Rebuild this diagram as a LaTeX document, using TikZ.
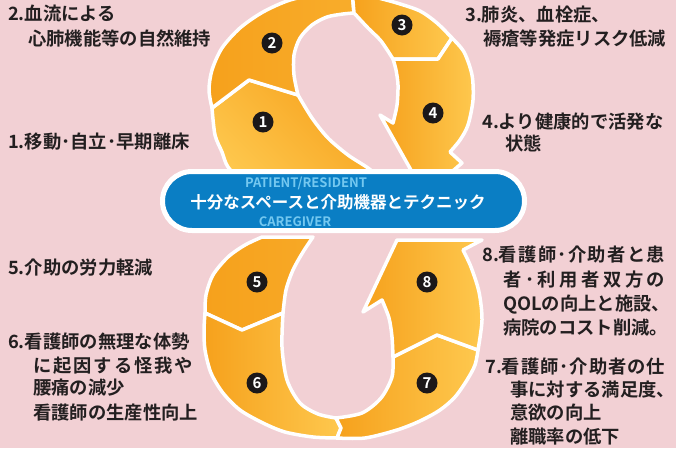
\documentclass[tikz,border=0pt]{standalone}
\usepackage{fontspec}
\setmainfont{Noto Sans CJK JP}[BoldFont={Noto Sans CJK JP Bold}]
\usetikzlibrary{shapes.misc}
\definecolor{bgpink}{HTML}{F2D0D4}
\definecolor{orD}{HTML}{F6A11C}
\definecolor{orL}{HTML}{FEC84E}
\definecolor{pillblue}{HTML}{0A7EC4}
\definecolor{lightblue}{HTML}{74C8F0}
\definecolor{txt}{HTML}{231F20}
\definecolor{numbg}{HTML}{1C1819}
\newcommand{\jfy}[2]{\makebox[#1][s]{#2}}
\begin{document}
\begin{tikzpicture}[x=1pt,y=-1pt,
  seg/.style={draw=white, line width=3.5pt, line join=round},
  grad/.style={left color=orD, right color=orL},
  num/.style={circle, fill=numbg, text=white, minimum size=21pt, inner sep=0pt, font=\bfseries\fontsize{15}{15}\selectfont},
  lab/.style={anchor=west, inner sep=0pt, text=txt, font=\bfseries\fontsize{18.3}{18.3}\selectfont},
  pillsmall/.style={inner sep=0pt, text=lightblue, font=\bfseries\fontsize{13}{13}\selectfont},
]
\useasboundingbox (0,0) rectangle (676,448);
\fill[bgpink] (0,0) rectangle (676,448);
\clip (0,0) rectangle (676,448);

% ---------- upper loop ----------
% segment 1
\path[seg, left color=orL, right color=orD, shading angle=135]
  (212,108) -- (249,80) -- (298,95)
  -- plot[smooth] coordinates {(298,95) (312,118) (328,138) (348,155) (368,168) (385,182)}
  -- (385,195) -- (250,195)
  -- plot[smooth] coordinates {(245,185) (228,167) (222,152) (215,135) (212,108)} -- cycle;
% segment 2
\path[seg, left color=orD, right color=orD!70!orL]
  (212,108) -- (249,80) -- (298,95)
  -- plot[smooth] coordinates {(298,95) (294,75) (294,55) (300,38) (312,25) (327,17) (343,14) (354,13)}
  -- (352,-10)
  -- plot[smooth] coordinates {(352,-10) (320,-6) (290,0) (263,12) (240,28) (222,48) (212,70) (209,90) (212,108)} -- cycle;
% segment 3
\path[seg, grad]
  (354,13) -- (352,-10)
  -- plot[smooth] coordinates {(352,-10) (375,-3) (397,3) (420,11) (437,23) (452,38)}
  -- (438,59) -- (393,59)
  -- plot[smooth] coordinates {(393,59) (381,41) (368,28) (354,13)} -- cycle;
% segment 4
\path[seg, grad]
  (393,59) -- (438,59) -- (452,38)
  -- plot[smooth] coordinates {(452,38) (464,52) (472,75) (473,100) (468,125) (460,140) (450,152)}
  -- (462,163) -- (425,195) -- (407,163) -- (380,115) -- (393,123)
  -- plot[smooth] coordinates {(393,123) (397,105) (398,85) (396,70) (393,59)} -- cycle;

% ---------- lower loop ----------
% segment 5
\path[seg, left color=orD, right color=orD!80!orL]
  (262,237) -- (313,237)
  -- plot[smooth] coordinates {(313,237) (303,252) (293,270) (286,290) (283,313)}
  -- (242,330) -- (205,313)
  -- plot[smooth] coordinates {(205,313) (206,295) (213,275) (228,257) (245,245) (262,237)} -- cycle;
% segment 6
\path[seg, grad]
  (205,313) -- (242,330) -- (283,313)
  -- plot[smooth] coordinates {(283,313) (282,347) (287,380) (300,403) (318,414) (336,418)}
  -- (341,428) -- (337,438)
  -- plot[smooth] coordinates {(337,438) (313,437) (285,432) (263,423) (240,410) (223,393) (211,373) (205,350) (204,330) (205,313)} -- cycle;
% segment 7
\path[seg, grad]
  (336,418) -- (341,428) -- (337,438)
  -- plot[smooth] coordinates {(337,438) (365,438) (397,430) (420,421) (440,410) (455,397) (467,380) (475,365) (478,350)}
  -- (437,335) -- (393,357)
  -- plot[smooth] coordinates {(393,357) (392,377) (381,398) (362,413) (336,418)} -- cycle;
% segment 8
\path[seg, grad]
  (393,357) -- (437,335) -- (478,350)
  -- plot[smooth] coordinates {(478,350) (482,320) (479,292) (471,267) (463,250)}
  -- (482,240) -- (397,240) -- (363,312) -- (382,300)
  -- plot[smooth] coordinates {(382,300) (389,318) (392,337) (393,357)} -- cycle;

% ---------- central pill ----------
\node[rounded rectangle, draw=white, line width=5pt, fill=pillblue,
      minimum width=362pt, minimum height=59pt, inner sep=0pt] (pill) at (343.5,201) {};
\node[pillsmall] (pat) at (306,183) {PATIENT/RESIDENT};
\node[inner sep=0pt, text=white, font=\bfseries\fontsize{16.5}{16.5}\selectfont] (core) at (338,202) {十分なスペースと介助機器とテクニック};
\node[pillsmall] (care) at (295,222) {CAREGIVER};

% ---------- numbers ----------
\node[num] (n1) at (263,122) {1};
\node[num] (n2) at (272,43) {2};
\node[num] (n3) at (402,25) {3};
\node[num] (n4) at (433,113) {4};
\node[num] (n5) at (257,282) {5};
\node[num] (n6) at (257,383) {6};
\node[num] (n7) at (427,383) {7};
\node[num] (n8) at (427,282) {8};

% ---------- labels ----------
\node[lab] (l2a) at (8,14) {2.血流による};
\node[lab] (l2b) at (28,38) {心肺機能等の自然維持};
\node[lab] (l1) at (8,142) {1.移動･自立･早期離床};
\node[lab] (l3a) at (465,15) {3.肺炎、血栓症、};
\node[lab] (l3b) at (483,39) {褥瘡等発症リスク低減};
\node[lab] (l4a) at (482,122) {4.より健康的で活発な};
\node[lab] (l4b) at (505,143) {状態};
\node[lab] (l5) at (8,268) {5.介助の労力軽減};
\node[lab] (l6a) at (8,342) {6.看護師の無理な体勢};
\node[lab] (l6b) at (33,366) {\jfy{160pt}{に\hfill 起\hfill 因\hfill す\hfill る\hfill 怪\hfill 我\hfill や}};
\node[lab] (l6c) at (33,388) {腰痛の減少};
\node[lab] (l6d) at (33,413) {看護師の生産性向上};
\node[lab] (l8a) at (482,255) {\jfy{183pt}{8.看\hfill 護\hfill 師\hfill ･\hfill 介\hfill 助\hfill 者\hfill と\hfill 患}};
\node[lab] (l8b) at (503,280) {\jfy{162pt}{者\hfill ･\hfill 利\hfill 用\hfill 者\hfill 双\hfill 方\hfill の}};
\node[lab] (l8c) at (503,305) {QOLの向上と施設、};
\node[lab] (l8d) at (503,328) {病院のコスト削減。};
\node[lab] (l7a) at (485,367) {\jfy{180pt}{7.看\hfill 護\hfill 師\hfill ･\hfill 介\hfill 助\hfill 者\hfill の\hfill 仕}};
\node[lab] (l7b) at (510,390) {事に対する満足度、};
\node[lab] (l7c) at (510,413) {意欲の向上};
\node[lab] (l7d) at (510,437) {離職率の低下};
\end{tikzpicture}
\end{document}
